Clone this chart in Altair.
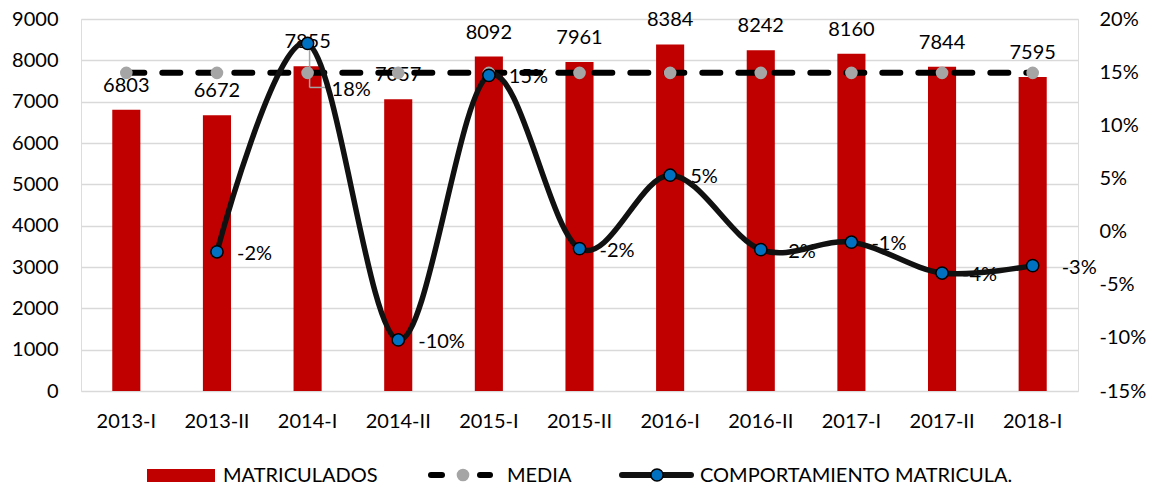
import altair as alt
import pandas as pd

periodos = ["2013-I", "2013-II", "2014-I", "2014-II", "2015-I", "2015-II",
            "2016-I", "2016-II", "2017-I", "2017-II", "2018-I"]
matriculados = [6803, 6672, 7855, 7057, 8092, 7961, 8384, 8242, 8160, 7844, 7595]
media = [7697, 7697, 7697, 7697, 7697, 7697, 7697, 7697, 7697, 7697, 7697]
comportamiento = [None, -1.9, 17.7, -10.2, 14.7, -1.6, 5.3, -1.7, -1.0, -3.9, -3.2]
left_ticks = [0, 1000, 2000, 3000, 4000, 5000, 6000, 7000, 8000, 9000]
right_ticks = [-15, -10, -5, 0, 5, 10, 15, 20]
legend_labels = ["MATRICULADOS", "MEDIA", "COMPORTAMIENTO MATRICULA."]

FONT = "Lato"
RED = "#C00000"
GREY = "#A5A5A5"
BLUE = "#0070C0"

df = pd.DataFrame({
    "periodo": periodos,
    "matriculados": matriculados,
    "media": media,
    "comportamiento": comportamiento,
})
pdf = df.dropna(subset=["comportamiento"]).copy()

xenc = alt.X("periodo:N", sort=periodos,
             scale=alt.Scale(paddingInner=0.69),
             axis=alt.Axis(title=None, labelAngle=0, ticks=False, domain=False,
                           labelPadding=20, labelFontSize=20, labelFont=FONT,
                           labelColor="black", grid=False))

left_scale = alt.Scale(domain=[0, 9000], nice=False, zero=True)
right_scale = alt.Scale(domain=[-15, 20], nice=False, zero=False)

base = alt.Chart(df)
pbase = alt.Chart(pdf).transform_calculate(
    lbl="round(datum.comportamiento) + '%'")

bars = base.mark_bar(color=RED).encode(
    x=xenc,
    y=alt.Y("matriculados:Q", scale=left_scale,
            axis=alt.Axis(title=None, values=left_ticks, format="d", grid=True,
                          gridColor="#D9D9D9", gridWidth=1.5, domain=False,
                          ticks=False, labelPadding=23, labelFontSize=20,
                          labelFont=FONT, labelColor="black"))
)

bar_text = base.mark_text(dy=-24, baseline="middle", fontSize=20, font=FONT,
                          color="black").encode(
    x=xenc,
    y=alt.Y("matriculados:Q", scale=left_scale, axis=None),
    text="matriculados:Q"
)

pct_text = pbase.transform_filter(
    "datum.periodo != '2014-I' && datum.periodo != '2018-I'").mark_text(
    align="left", baseline="middle", dx=20, dy=2, fontSize=20, font=FONT,
    color="black").encode(
    x=xenc,
    y=alt.Y("comportamiento:Q", scale=right_scale, axis=None),
    text="lbl:N"
)
pct_text_last = pbase.transform_filter("datum.periodo == '2018-I'").mark_text(
    align="left", baseline="middle", dx=29, dy=2, fontSize=20, font=FONT,
    color="black").encode(
    x=xenc,
    y=alt.Y("comportamiento:Q", scale=right_scale, axis=None),
    text="lbl:N"
)

pct_text18 = pbase.transform_filter("datum.periodo == '2014-I'").mark_text(
    align="left", baseline="middle", dx=24, dy=47, fontSize=20, font=FONT,
    color="black").encode(
    x=xenc,
    y=alt.Y("comportamiento:Q", scale=right_scale, axis=None),
    text="lbl:N"
)

leader_v = pbase.transform_filter("datum.periodo == '2014-I'").mark_rule(
    color=GREY, strokeWidth=1.5, yOffset=0, y2Offset=44, xOffset=2, x2Offset=2).encode(
    x=xenc,
    y=alt.Y("comportamiento:Q", scale=right_scale, axis=None),
    y2="comportamiento:Q"
)
leader_h = pbase.transform_filter("datum.periodo == '2014-I'").mark_rule(
    color=GREY, strokeWidth=1.5, yOffset=44, xOffset=2, x2Offset=19).encode(
    x=xenc,
    x2="periodo:N",
    y=alt.Y("comportamiento:Q", scale=right_scale, axis=None)
)

media_line = base.mark_line(color="black", strokeWidth=6, strokeDash=[18, 18],
                            strokeCap="round").encode(
    x=xenc,
    y=alt.Y("media:Q", scale=left_scale, axis=None)
)
media_pts = base.mark_circle(color=GREY, size=160, opacity=1).encode(
    x=xenc,
    y=alt.Y("media:Q", scale=left_scale, axis=None)
)

pct_line = pbase.mark_line(color="#111111", strokeWidth=5.5,
                           interpolate="cardinal").encode(
    x=xenc,
    y=alt.Y("comportamiento:Q", scale=right_scale,
            axis=alt.Axis(orient="right", title=None, values=right_ticks,
                          labelExpr="datum.value + '%'", grid=False,
                          domain=False, ticks=False, labelPadding=21,
                          labelFontSize=20, labelFont=FONT, labelColor="black"))
)
pct_pts = pbase.mark_circle(color=BLUE, stroke="black", strokeWidth=1.5,
                            size=150, opacity=1).encode(
    x=xenc,
    y=alt.Y("comportamiento:Q", scale=right_scale, axis=None)
)

# manual legend
ldf = pd.DataFrame({"t": legend_labels})
LY = 456
TB = 463
leg_rect = alt.Chart(ldf.iloc[[0]]).mark_rect(color=RED).encode(
    x=alt.value(66), x2=alt.value(134), y=alt.value(450), y2=alt.value(463))
leg_t1 = alt.Chart(ldf.iloc[[0]]).mark_text(
    align="left", baseline="alphabetic", fontSize=20, font=FONT, color="black").encode(
    x=alt.value(142), y=alt.value(TB), text="t:N")
leg_d1 = alt.Chart(ldf.iloc[[1]]).mark_rule(
    color="black", strokeWidth=6, strokeCap="round").encode(
    x=alt.value(350), x2=alt.value(361), y=alt.value(LY))
leg_d2 = alt.Chart(ldf.iloc[[1]]).mark_rule(
    color="black", strokeWidth=6, strokeCap="round").encode(
    x=alt.value(399), x2=alt.value(409), y=alt.value(LY))
leg_dot1 = alt.Chart(ldf.iloc[[1]]).mark_circle(color=GREY, size=160, opacity=1).encode(
    x=alt.value(382), y=alt.value(LY))
leg_t2 = alt.Chart(ldf.iloc[[1]]).mark_text(
    align="left", baseline="alphabetic", fontSize=20, font=FONT, color="black").encode(
    x=alt.value(426), y=alt.value(TB), text="t:N")
leg_l3 = alt.Chart(ldf.iloc[[2]]).mark_rule(
    color="#111111", strokeWidth=6, strokeCap="round").encode(
    x=alt.value(541), x2=alt.value(610), y=alt.value(LY))
leg_dot3 = alt.Chart(ldf.iloc[[2]]).mark_circle(
    color=BLUE, stroke="black", strokeWidth=1.5, size=150, opacity=1).encode(
    x=alt.value(576), y=alt.value(LY))
leg_t3 = alt.Chart(ldf.iloc[[2]]).mark_text(
    align="left", baseline="alphabetic", fontSize=20, font=FONT, color="black").encode(
    x=alt.value(619), y=alt.value(TB), text="t:N")

chart = alt.layer(
    bars, bar_text, pct_text, pct_text_last, pct_text18, leader_v, leader_h,
    media_line, media_pts, pct_line, pct_pts,
    leg_rect, leg_t1, leg_d1, leg_d2, leg_dot1, leg_t2, leg_l3, leg_dot3, leg_t3
).resolve_scale(y="independent").properties(
    width=997, height=372,
    autosize=alt.AutoSizeParams(type="none"),
    padding={"left": 73, "top": 11, "right": 69, "bottom": 96},
    background="white"
).configure_view(stroke=None).configure(font=FONT)

chart.save("out.html", embed_options={"renderer": "svg", "actions": False})
